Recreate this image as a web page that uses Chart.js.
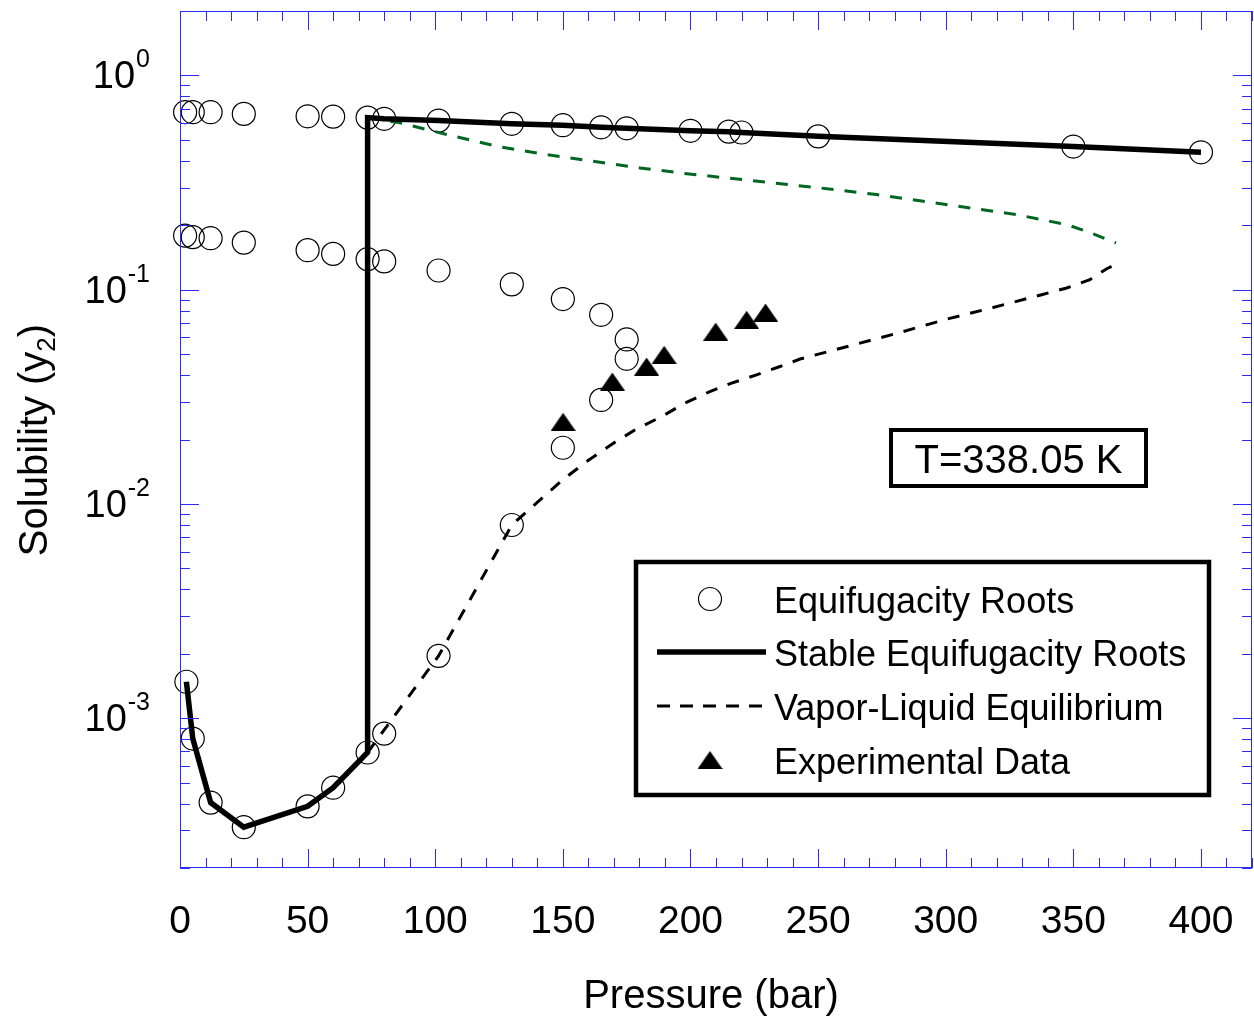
<!DOCTYPE html>
<html>
<head>
<meta charset="utf-8">
<title>Solubility vs Pressure</title>
<script src="https://cdn.jsdelivr.net/npm/chart.js@4.4.1/dist/chart.umd.min.js"></script>
<style>
  html, body { margin: 0; padding: 0; background: #fff; overflow: hidden; }
  #wrap { width: 1254px; height: 1019px; }
  canvas { display: block; }
</style>
</head>
<body>
<div id="wrap"><canvas id="chart" width="1254" height="1019"></canvas></div>
<script>
// Solubility (y2) against pressure at T = 338.05 K

// Equifugacity roots, three branches (pressure in bar)
const upperP = [2, 5, 12, 25, 50, 60, 73.5, 80, 101.3, 130, 150, 165, 175, 200, 215, 220, 250, 350, 400];
const upperY = [0.674, 0.674, 0.674, 0.662, 0.645, 0.643, 0.636, 0.628, 0.616, 0.595, 0.586, 0.573, 0.567, 0.552, 0.547, 0.542, 0.520, 0.466, 0.438];
const middleP = [2, 5, 12, 25, 50, 60, 73.5, 80, 101.3, 130, 150, 165, 175];
const middleY = [0.179, 0.176, 0.174, 0.166, 0.153, 0.147, 0.139, 0.1356, 0.123, 0.106, 0.0905, 0.0764, 0.0586];
const lowerP = [2.5, 5, 12, 25, 50, 60, 73.5, 80, 101.3, 130, 150, 165, 175];
const lowerY = [1.48e-3, 8.04e-4, 4.04e-4, 3.10e-4, 3.88e-4, 4.74e-4, 6.92e-4, 8.48e-4, 1.955e-3, 7.98e-3, 0.0183, 0.0306, 0.0476];

// Stable equifugacity roots (solid line)
const stableP = [2.5, 5, 12, 25, 50, 60, 73.5, 73.5, 80, 101.3, 130, 150, 165, 175, 200, 215, 220, 250, 350, 400];
const stableY = [1.48e-3, 8.04e-4, 4.04e-4, 3.10e-4, 3.88e-4, 4.74e-4, 6.92e-4, 0.636, 0.628, 0.616, 0.595, 0.586, 0.573, 0.567, 0.552, 0.547, 0.542, 0.520, 0.466, 0.438];

// Vapor-liquid equilibrium, black (lower) and green (upper) parts
const vleP = [73.5, 101.3, 130, 150.2, 159.3, 169.8, 178.9, 188.7, 197.8, 207.6, 216.1, 225.9, 235.1, 242.9, 262.5, 282.1, 300.4, 318.6, 337.6, 347.4, 356.5, 363.1, 365.1];
const vleY = [6.92e-4, 1.955e-3, 7.98e-3, 0.01304, 0.01577, 0.01922, 0.02241, 0.02558, 0.02955, 0.03348, 0.03665, 0.04008, 0.04383, 0.04748, 0.05475, 0.0632, 0.07295, 0.0826, 0.0948, 0.1019, 0.1114, 0.1254, 0.1288];
const vleGreenP = [73.5, 86.2, 104.5, 124.1, 143.7, 161.9, 180.2, 195.9, 214.2, 232.4, 250.7, 272.9, 291.2, 309.5, 327.8, 347.4, 355.2, 366.7];
const vleGreenY = [0.636, 0.601, 0.530, 0.4675, 0.4274, 0.3976, 0.3704, 0.351, 0.3325, 0.3151, 0.2987, 0.278, 0.2586, 0.2409, 0.2241, 0.2013, 0.1873, 0.1653];

// Experimental data
const expP = [150.1, 169.4, 182.8, 189.7, 209.9, 222, 229.4];
const expY = [0.0242, 0.0373, 0.0438, 0.0497, 0.0638, 0.0724, 0.0783];

// Axes
const xTickValues = [0, 50, 100, 150, 200, 250, 300, 350, 400];
const xTickLabels = ["0", "50", "100", "150", "200", "250", "300", "350", "400"];
const yTickExponents = [0, -1, -2, -3];
const yTickLabels = ["0", "-1", "-2", "-3"];

const legendLabels = ["Equifugacity Roots", "Stable Equifugacity Roots", "Vapor-Liquid Equilibrium", "Experimental Data"];
const tempLabel = "T=338.05 K";

const FONT = "'Liberation Sans', Arial, sans-serif";
const axisBlue = "#2b2bff";
const vleGreen = "#006622";

function toPoints(xs, ys) {
    return xs.map((v, i) => ({ x: v, y: ys[i] }));
}

// flat filled triangle used for the experimental points
function makeTriangle(w, h) {
    const c = document.createElement("canvas");
    c.width = w;
    c.height = h;
    const g = c.getContext("2d");
    g.fillStyle = "#000";
    g.beginPath();
    g.moveTo(w / 2, 0);
    g.lineTo(w, h);
    g.lineTo(0, h);
    g.closePath();
    g.fill();
    return c;
}
const triangleMarker = makeTriangle(25, 18);

// Blue frame with inward ticks, tick labels and axis titles
const frameAxes = {
    id: "frameAxes",
    afterDatasetsDraw(chart) {
        const { ctx, chartArea: a, scales: { x, y } } = chart;
        ctx.save();
        ctx.strokeStyle = axisBlue;
        ctx.lineWidth = 1;
        ctx.strokeRect(a.left + 0.5, a.top + 0.5, a.right - a.left - 1, a.bottom - a.top - 1);

        ctx.beginPath();
        for (let v = 0; v <= x.max; v += 10) {
            const px = Math.round(x.getPixelForValue(v)) + 0.5;
            const len = v % 50 === 0 ? 19 : 10;
            ctx.moveTo(px, a.bottom); ctx.lineTo(px, a.bottom - len);
            ctx.moveTo(px, a.top); ctx.lineTo(px, a.top + len);
        }
        for (let k = -4; k <= 0; k++) {
            for (let m = 1; m <= 9; m++) {
                const v = m * Math.pow(10, k);
                if (v < y.min || v > y.max) continue;
                const py = Math.round(y.getPixelForValue(v)) + 0.5;
                const len = m === 1 ? 19 : 10;
                ctx.moveTo(a.left, py); ctx.lineTo(a.left + len, py);
                ctx.moveTo(a.right, py); ctx.lineTo(a.right - len, py);
            }
        }
        ctx.stroke();

        ctx.fillStyle = "#000";
        ctx.textBaseline = "alphabetic";

        // x tick labels
        ctx.font = "39px " + FONT;
        ctx.textAlign = "center";
        xTickValues.forEach((v, i) => {
            ctx.fillText(xTickLabels[i], x.getPixelForValue(v), 933);
        });

        // y tick labels as powers of ten
        yTickExponents.forEach((e, i) => {
            const py = y.getPixelForValue(Math.pow(10, e));
            ctx.font = "25px " + FONT;
            const ew = ctx.measureText(yTickLabels[i]).width;
            ctx.textAlign = "left";
            ctx.fillText(yTickLabels[i], 150 - ew, py - 8);
            ctx.font = "38px " + FONT;
            ctx.textAlign = "right";
            ctx.fillText("10", 150 - ew - 1, py + 13);
        });

        // x title
        ctx.font = "40px " + FONT;
        ctx.textAlign = "center";
        ctx.fillText("Pressure (bar)", 711, 1008);

        // y title with subscript
        ctx.translate(47, 440);
        ctx.rotate(-Math.PI / 2);
        ctx.font = "40px " + FONT;
        const partA = "Solubility (y";
        const partC = ")";
        const wA = ctx.measureText(partA).width;
        const wC = ctx.measureText(partC).width;
        ctx.font = "26px " + FONT;
        const wB = ctx.measureText("2").width;
        const sx = -(wA + wB + wC) / 2;
        ctx.textAlign = "left";
        ctx.font = "40px " + FONT;
        ctx.fillText(partA, sx, 0);
        ctx.font = "26px " + FONT;
        ctx.fillText("2", sx + wA, 8);
        ctx.font = "40px " + FONT;
        ctx.fillText(partC, sx + wA + wB, 0);
        ctx.restore();
    }
};

// Legend box and temperature label
const legendBox = {
    id: "legendBox",
    afterDraw(chart) {
        const ctx = chart.ctx;
        ctx.save();
        ctx.fillStyle = "#fff";
        ctx.fillRect(636, 562, 573, 233);
        ctx.strokeStyle = "#000";
        ctx.lineWidth = 4.5;
        ctx.strokeRect(636, 562, 573, 233);

        const rows = [599, 652, 706, 760];
        // open circle
        ctx.lineWidth = 1.2;
        ctx.beginPath();
        ctx.arc(710, rows[0], 11.5, 0, Math.PI * 2);
        ctx.stroke();
        // solid line
        ctx.lineWidth = 5.5;
        ctx.beginPath();
        ctx.moveTo(657, rows[1]); ctx.lineTo(766, rows[1]);
        ctx.stroke();
        // dashed line
        ctx.lineWidth = 3;
        ctx.setLineDash([13, 10]);
        ctx.beginPath();
        ctx.moveTo(657, rows[2]); ctx.lineTo(766, rows[2]);
        ctx.stroke();
        ctx.setLineDash([]);
        // triangle
        ctx.drawImage(triangleMarker, 710 - triangleMarker.width / 2, rows[3] - triangleMarker.height / 2);

        ctx.fillStyle = "#000";
        ctx.font = "36px " + FONT;
        ctx.textAlign = "left";
        ctx.textBaseline = "alphabetic";
        legendLabels.forEach((t, i) => ctx.fillText(t, 774, rows[i] + 14));

        // temperature box
        ctx.lineWidth = 4;
        ctx.strokeRect(891, 430, 255, 56);
        ctx.font = "40px " + FONT;
        ctx.textAlign = "center";
        ctx.fillText(tempLabel, 1018.5, 473);
        ctx.restore();
    }
};

const rootPoints = toPoints(upperP, upperY)
    .concat(toPoints(middleP, middleY))
    .concat(toPoints(lowerP, lowerY));

new Chart(document.getElementById("chart"), {
    type: "scatter",
    data: {
        datasets: [
            {
                label: "Stable Equifugacity Roots",
                data: toPoints(stableP, stableY),
                showLine: true,
                borderColor: "#000",
                borderWidth: 5.5,
                pointRadius: 0,
                tension: 0,
                clip: false
            },
            {
                label: "Vapor-Liquid Equilibrium",
                data: toPoints(vleP, vleY),
                showLine: true,
                borderColor: "#000",
                borderWidth: 3,
                borderDash: [12, 11],
                pointRadius: 0,
                tension: 0,
                clip: false
            },
            {
                label: "VLE (upper)",
                data: toPoints(vleGreenP, vleGreenY),
                showLine: true,
                borderColor: vleGreen,
                borderWidth: 3,
                borderDash: [12, 11],
                pointRadius: 0,
                tension: 0,
                clip: false
            },
            {
                label: "Equifugacity Roots",
                data: rootPoints,
                showLine: false,
                pointStyle: "circle",
                pointRadius: 11.5,
                pointBorderWidth: 1.2,
                pointBorderColor: "#000",
                pointBackgroundColor: "rgba(0,0,0,0)",
                clip: false
            },
            {
                label: "Experimental Data",
                data: toPoints(expP, expY),
                showLine: false,
                pointStyle: triangleMarker,
                pointRadius: 12,
                clip: false
            }
        ]
    },
    options: {
        responsive: false,
        animation: false,
        events: [],
        layout: {
            autoPadding: false,
            padding: { left: 180, top: 11, right: 2, bottom: 151 }
        },
        scales: {
            x: { type: "linear", min: 0, max: 420, display: false },
            y: { type: "logarithmic", min: 2e-4, max: 2, display: false }
        },
        plugins: {
            legend: { display: false },
            tooltip: { enabled: false }
        }
    },
    plugins: [frameAxes, legendBox]
});
</script>
</body>
</html>
